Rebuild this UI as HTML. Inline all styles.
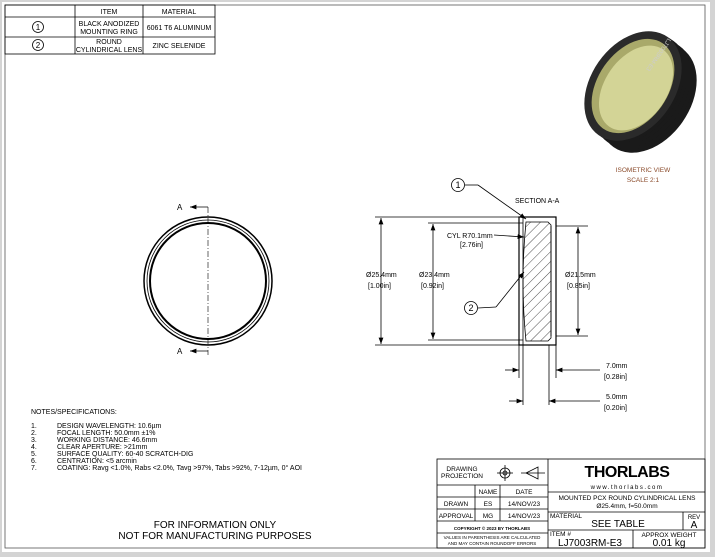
<!DOCTYPE html>
<html><head><meta charset="utf-8"><style>
html,body{margin:0;padding:0;background:#d9d9d9;}
svg{display:block;font-family:"Liberation Sans",sans-serif;}
</style></head><body>
<svg width="715" height="557" viewBox="0 0 715 557" xmlns="http://www.w3.org/2000/svg">
<defs>
<pattern id="h" width="7" height="7" patternUnits="userSpaceOnUse" patternTransform="rotate(45)">
<line x1="0" y1="0" x2="0" y2="7" stroke="#000" stroke-width="0.7"/></pattern>
<marker id="ar" markerWidth="8" markerHeight="6" refX="8" refY="3" orient="auto"><path d="M0,0 L8,3 L0,6z" fill="#000"/></marker>
</defs>
<rect x="0" y="0" width="715" height="557" fill="#d4d4d4"/>
<rect x="2" y="2" width="708" height="550" fill="#fff"/>
<rect x="5" y="5" width="700" height="543" fill="none" stroke="#555" stroke-width="0.8"/>
<!-- top left table -->
<g stroke="#000" stroke-width="0.8" fill="none">
<rect x="5" y="5" width="210" height="49"/>
<line x1="5" y1="17" x2="215" y2="17"/><line x1="5" y1="37" x2="215" y2="37"/>
<line x1="75" y1="5" x2="75" y2="54"/><line x1="143" y1="5" x2="143" y2="54"/>
<circle cx="38" cy="27" r="5.5"/><circle cx="38" cy="45" r="5.5"/>
</g>
<g font-size="7" text-anchor="middle" fill="#000">
<text x="109" y="14">ITEM</text><text x="179" y="14">MATERIAL</text>
<text x="38" y="30" font-size="8">1</text><text x="38" y="48" font-size="8">2</text>
<text x="109" y="26">BLACK ANODIZED</text><text x="109" y="34">MOUNTING RING</text>
<text x="179" y="30">6061 T6 ALUMINUM</text>
<text x="109" y="44">ROUND</text><text x="109" y="52">CYLINDRICAL LENS</text>
<text x="179" y="48">ZINC SELENIDE</text>
</g>
<!-- isometric -->
<g fill="#1a1a1a">
<ellipse cx="648" cy="98" rx="60" ry="42" transform="rotate(-55 648 98)"/>
<ellipse cx="645" cy="95" rx="60" ry="42" transform="rotate(-55 645 95)"/>
<ellipse cx="642" cy="93" rx="60" ry="42" transform="rotate(-55 642 93)"/>
<ellipse cx="639" cy="90" rx="60" ry="42" transform="rotate(-55 639 90)"/>
<ellipse cx="636" cy="88" rx="60" ry="42" transform="rotate(-55 636 88)"/>
<ellipse cx="633" cy="86" rx="60" ry="42" fill="#2a2a2a" transform="rotate(-55 633 86)"/>
<ellipse cx="633" cy="86" rx="52" ry="35" fill="#a9a96a" transform="rotate(-55 633 86)"/>
<ellipse cx="636" cy="88" rx="47" ry="31" fill="#d3d496" transform="rotate(-55 636 88)"/>
</g>
<text x="0" y="0" font-size="6" fill="#ccc" transform="translate(668,38) rotate(125)">LJ7003RM-E3</text>
<text x="643" y="172" font-size="6.5" fill="#8a4a2a" text-anchor="middle">ISOMETRIC VIEW</text>
<text x="643" y="182" font-size="6.5" fill="#8a4a2a" text-anchor="middle">SCALE 2:1</text>
<!-- front view -->
<g fill="none" stroke="#000">
<circle cx="208" cy="281" r="64" stroke-width="1.5"/>
<circle cx="208" cy="281" r="61" stroke-width="0.8"/>
<circle cx="208" cy="281" r="58" stroke-width="2"/>
<line x1="208" y1="207" x2="208" y2="355" stroke-width="0.6" stroke-dasharray="6,2,1,2"/>
<line x1="208" y1="207" x2="190" y2="207" stroke-width="0.8" marker-end="url(#ar)"/>
<line x1="208" y1="351" x2="190" y2="351" stroke-width="0.8" marker-end="url(#ar)"/>
</g>
<text x="177" y="210" font-size="8">A</text><text x="177" y="354" font-size="8">A</text>
<!-- section view -->
<g fill="none" stroke="#000" stroke-width="0.8">
<path d="M526,222 L548,222 L551,225 L551,338 L548,341 L526,341 Q520,282 526,222z" fill="url(#h)"/>
<rect x="519" y="217" width="37" height="128" stroke-width="1.2"/>
<line x1="523" y1="217" x2="523" y2="345"/>
<line x1="551" y1="226" x2="551" y2="336"/>
<line x1="375" y1="217" x2="519" y2="217"/><line x1="375" y1="345" x2="519" y2="345"/>
<line x1="428" y1="223" x2="523" y2="223"/><line x1="428" y1="340" x2="523" y2="340"/>
<line x1="556" y1="226" x2="588" y2="226"/><line x1="556" y1="336" x2="588" y2="336"/>
<line x1="381" y1="282" x2="381" y2="218" marker-end="url(#ar)"/><line x1="381" y1="282" x2="381" y2="344" marker-end="url(#ar)"/>
<line x1="433" y1="282" x2="433" y2="224" marker-end="url(#ar)"/><line x1="433" y1="282" x2="433" y2="339" marker-end="url(#ar)"/>
<line x1="578" y1="282" x2="578" y2="227" marker-end="url(#ar)"/><line x1="578" y1="282" x2="578" y2="335" marker-end="url(#ar)"/>
<line x1="519" y1="345" x2="519" y2="378"/><line x1="556" y1="345" x2="556" y2="378"/>
<line x1="523" y1="345" x2="523" y2="405"/><line x1="549" y1="345" x2="549" y2="405"/>
<line x1="505" y1="370" x2="519" y2="370" marker-end="url(#ar)"/>
<line x1="600" y1="370" x2="556" y2="370" marker-end="url(#ar)"/>
<line x1="509" y1="401" x2="523" y2="401" marker-end="url(#ar)"/>
<line x1="600" y1="401" x2="549" y2="401" marker-end="url(#ar)"/>
<circle cx="458" cy="185" r="6.5"/><line x1="465" y1="185" x2="478" y2="185"/>
<line x1="478" y1="185" x2="526" y2="219" marker-end="url(#ar)"/>
<circle cx="471" cy="308" r="6.5"/><line x1="478" y1="308" x2="496" y2="307"/>
<line x1="496" y1="307" x2="524" y2="272" marker-end="url(#ar)"/>
<line x1="494" y1="235" x2="524" y2="237" marker-end="url(#ar)"/>
</g>
<g font-size="7" fill="#000">
<text x="458" y="188" text-anchor="middle" font-size="9">1</text>
<text x="471" y="311" text-anchor="middle" font-size="9">2</text>
<text x="515" y="203">SECTION A-A</text>
<text x="447" y="238">CYL R70.1mm</text><text x="460" y="247">[2.76in]</text>
<text x="366" y="277">Ø25.4mm</text><text x="368" y="288">[1.00in]</text>
<text x="419" y="277">Ø23.4mm</text><text x="421" y="288">[0.92in]</text>
<text x="565" y="277">Ø21.5mm</text><text x="567" y="288">[0.85in]</text>
<text x="606" y="368">7.0mm</text><text x="604" y="379">[0.28in]</text>
<text x="606" y="399">5.0mm</text><text x="604" y="410">[0.20in]</text>
</g>
<!-- notes -->
<g font-size="7" fill="#000">
<text x="31" y="414">NOTES/SPECIFICATIONS:</text>
<text x="31" y="428">1.</text><text x="57" y="428">DESIGN WAVELENGTH: 10.6µm</text>
<text x="31" y="435">2.</text><text x="57" y="435">FOCAL LENGTH: 50.0mm ±1%</text>
<text x="31" y="442">3.</text><text x="57" y="442">WORKING DISTANCE: 46.6mm</text>
<text x="31" y="449">4.</text><text x="57" y="449">CLEAR APERTURE: &gt;21mm</text>
<text x="31" y="456">5.</text><text x="57" y="456">SURFACE QUALITY: 60-40 SCRATCH-DIG</text>
<text x="31" y="463">6.</text><text x="57" y="463">CENTRATION: &lt;5 arcmin</text>
<text x="31" y="470">7.</text><text x="57" y="470">COATING: Ravg &lt;1.0%, Rabs &lt;2.0%, Tavg &gt;97%, Tabs &gt;92%, 7-12µm, 0° AOI</text>
</g>
<text x="215" y="528" font-size="10" text-anchor="middle">FOR INFORMATION ONLY</text>
<text x="215" y="539" font-size="10" text-anchor="middle">NOT FOR MANUFACTURING PURPOSES</text>
<!-- title block -->
<g fill="none" stroke="#000" stroke-width="0.8">
<rect x="437" y="459" width="268" height="89"/>
<line x1="548" y1="459" x2="548" y2="548"/>
<line x1="437" y1="485" x2="548" y2="485"/>
<line x1="437" y1="497" x2="548" y2="497"/>
<line x1="437" y1="509" x2="548" y2="509"/>
<line x1="437" y1="521" x2="548" y2="521"/>
<line x1="437" y1="533" x2="548" y2="533"/>
<line x1="475" y1="485" x2="475" y2="521"/><line x1="500" y1="485" x2="500" y2="521"/>
<line x1="548" y1="492" x2="705" y2="492"/>
<line x1="548" y1="512" x2="705" y2="512"/>
<line x1="548" y1="530" x2="705" y2="530"/>
<line x1="683" y1="512" x2="683" y2="530"/>
<line x1="633" y1="530" x2="633" y2="548"/>
<circle cx="505" cy="473" r="5"/><circle cx="505" cy="473" r="2"/>
<line x1="497" y1="473" x2="513" y2="473"/><line x1="505" y1="465" x2="505" y2="481"/>
<path d="M526,473 L538,467 L538,479z M521,473 L545,473"/>
</g>
<g font-size="6.5" fill="#000" text-anchor="middle">
<text x="462" y="471">DRAWING</text><text x="462" y="478">PROJECTION</text>
<text x="488" y="494">NAME</text><text x="524" y="494">DATE</text>
<text x="456" y="506">DRAWN</text><text x="488" y="506">ES</text><text x="524" y="506">14/NOV/23</text>
<text x="456" y="518">APPROVAL</text><text x="488" y="518">MG</text><text x="524" y="518">14/NOV/23</text>
<text x="492" y="530" font-size="4.5" font-weight="bold">COPYRIGHT © 2023 BY THORLABS</text>
<text x="492" y="539" font-size="4.5">VALUES IN PARENTHESIS ARE CALCULATED</text>
<text x="492" y="545" font-size="4.5">AND MAY CONTAIN ROUNDOFF ERRORS</text>
<text x="627" y="477" font-size="16" font-weight="bold" letter-spacing="-0.5">THORLABS</text>
<text x="627" y="489" font-size="6" letter-spacing="1.5">www.thorlabs.com</text>
<text x="627" y="500">MOUNTED PCX ROUND CYLINDRICAL LENS</text>
<text x="627" y="508">Ø25.4mm, f=50.0mm</text>
<text x="618" y="527" font-size="10">SEE TABLE</text>
<text x="694" y="519" font-size="6">REV</text><text x="694" y="528" font-size="10">A</text>
<text x="590" y="546" font-size="10">LJ7003RM-E3</text>
<text x="669" y="537">APPROX WEIGHT</text>
<text x="669" y="546" font-size="10">0.01 kg</text>
</g>
<text x="550" y="518" font-size="6.5">MATERIAL</text>
<text x="550" y="536" font-size="6.5">ITEM #</text>
</svg>
</body></html>
